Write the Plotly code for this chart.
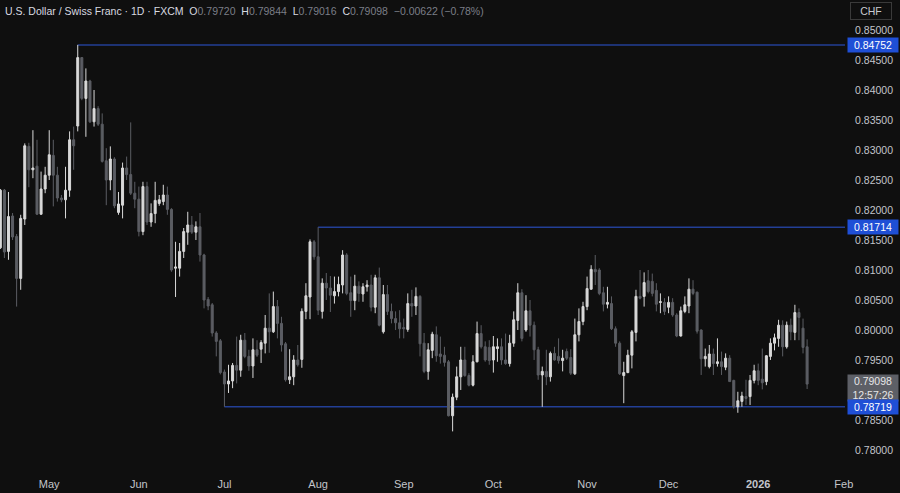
import pandas as pd
import plotly.graph_objects as go

# ---------------- data ----------------
holidays = ["2025-12-25", "2026-01-01"]
dates = [d for d in pd.bdate_range("2025-04-15", "2026-01-20") if d.strftime("%Y-%m-%d") not in holidays]

opens = [
    0.8137, 0.8233, 0.8131, 0.8190, 0.8156, 0.8086, 0.8185, 0.8306, 0.8267, 0.8273, 0.8193, 0.8235,
    0.8258, 0.8291, 0.8258, 0.8220, 0.8217, 0.8233, 0.8317, 0.8340, 0.8454, 0.8386,
    0.8415, 0.8347, 0.8369, 0.8343, 0.8282, 0.8250, 0.8285, 0.8196, 0.8208, 0.8270,
    0.8259, 0.8228, 0.8218, 0.8164, 0.8239, 0.8180, 0.8194, 0.8211, 0.8214, 0.8225,
    0.8201, 0.8103, 0.8103, 0.8131, 0.8163, 0.8175, 0.8163, 0.8172, 0.8125, 0.8051,
    0.8042, 0.7995, 0.7982, 0.7930, 0.7910, 0.7915, 0.7941, 0.7933, 0.7983, 0.7956,
    0.7940, 0.7967, 0.7968, 0.7978, 0.8003, 0.7997, 0.8039, 0.8011, 0.7977, 0.7917,
    0.7922, 0.7950, 0.7951, 0.8031, 0.8055, 0.8147, 0.8122, 0.8031, 0.8078, 0.8070,
    0.8057, 0.8064, 0.8075, 0.8125, 0.8062, 0.8049, 0.8073, 0.8060, 0.8072, 0.8075,
    0.8038, 0.8087, 0.7997, 0.8059, 0.8031, 0.8019, 0.8012, 0.8004, 0.8001, 0.8044,
    0.8040, 0.8056, 0.7978, 0.7931, 0.7966, 0.7992, 0.7960, 0.7958, 0.7947, 0.7857,
    0.7888, 0.7922, 0.7950, 0.7924, 0.7908, 0.7947, 0.7994, 0.7972, 0.7971, 0.7950,
    0.7969, 0.7972, 0.7950, 0.7944, 0.7978, 0.8016, 0.8062, 0.8000, 0.8032, 0.8008,
    0.7967, 0.7925, 0.7931, 0.7922, 0.7961, 0.7956, 0.7949, 0.7964, 0.7954, 0.7927,
    0.7992, 0.8014, 0.8039, 0.8068, 0.8101, 0.8100, 0.8062, 0.8043, 0.8044, 0.8002,
    0.7978, 0.7924, 0.7929, 0.7958, 0.7996, 0.8056, 0.8056, 0.8082, 0.8081, 0.8066,
    0.8046, 0.8046, 0.8038, 0.8046, 0.8025, 0.7990, 0.8031, 0.8040, 0.8068, 0.8063,
    0.8000, 0.7952, 0.7939, 0.7960, 0.7944, 0.7947, 0.7938, 0.7953, 0.7916, 0.7872,
    0.7881, 0.7889, 0.7889, 0.7916, 0.7932, 0.7918, 0.7914, 0.7956, 0.7978, 0.7986,
    0.8008, 0.7972, 0.8008, 0.7996, 0.8029, 0.8003, 0.79720,
]
highs = [
    0.8235, 0.8235, 0.8230, 0.8195, 0.8160, 0.8192, 0.8311, 0.8312, 0.8333, 0.8317, 0.8264, 0.8272,
    0.8333, 0.8317, 0.8272, 0.8225, 0.8272, 0.8331, 0.8339, 0.84752, 0.8455, 0.8436,
    0.8417, 0.8400, 0.8373, 0.8361, 0.8303, 0.8306, 0.8288, 0.8230, 0.8279, 0.8289,
    0.8346, 0.8247, 0.8239, 0.8247, 0.8247, 0.8211, 0.8247, 0.8225, 0.8242, 0.8239,
    0.8203, 0.8147, 0.8145, 0.8170, 0.8197, 0.8190, 0.8181, 0.8195, 0.8127, 0.8055,
    0.8045, 0.7998, 0.7985, 0.7934, 0.7942, 0.7945, 0.7989, 0.7992, 0.7995, 0.7967,
    0.7986, 0.7983, 0.7983, 0.8025, 0.8061, 0.8064, 0.8050, 0.8022, 0.7980, 0.7968,
    0.7958, 0.7975, 0.8036, 0.8078, 0.8151, 0.8150, 0.81714, 0.8086, 0.8095, 0.8090,
    0.8089, 0.8089, 0.8133, 0.8128, 0.8089, 0.8092, 0.8081, 0.8078, 0.8083, 0.8092,
    0.8092, 0.8104, 0.8075, 0.8075, 0.8044, 0.8031, 0.8033, 0.8019, 0.8061, 0.8067,
    0.8071, 0.8058, 0.7995, 0.7978, 0.7997, 0.8006, 0.7989, 0.7972, 0.7950, 0.7894,
    0.7939, 0.7972, 0.7972, 0.7928, 0.7958, 0.8014, 0.8008, 0.7981, 0.7983, 0.7990,
    0.7986, 0.7986, 0.7994, 0.7992, 0.8031, 0.8078, 0.8068, 0.8058, 0.8050, 0.8014,
    0.7972, 0.7939, 0.7967, 0.7964, 0.7972, 0.7986, 0.7967, 0.7969, 0.7968, 0.8019,
    0.8036, 0.8047, 0.8089, 0.8108, 0.8125, 0.8103, 0.8072, 0.8072, 0.8056, 0.8006,
    0.7981, 0.7947, 0.7967, 0.8000, 0.8067, 0.8100, 0.8096, 0.8100, 0.8094, 0.8078,
    0.8061, 0.8053, 0.8056, 0.8053, 0.8028, 0.8039, 0.8056, 0.8086, 0.8083, 0.8064,
    0.8001, 0.7969, 0.7975, 0.7969, 0.7986, 0.7964, 0.7961, 0.7958, 0.7917, 0.7897,
    0.7897, 0.7917, 0.7925, 0.7942, 0.7944, 0.7969, 0.7958, 0.7986, 0.7994, 0.8017,
    0.8016, 0.8014, 0.8019, 0.8042, 0.8036, 0.8019, 0.79844,
]
lows = [
    0.8135, 0.8120, 0.8117, 0.8150, 0.8039, 0.8067, 0.8175, 0.8238, 0.8253, 0.8192, 0.8192, 0.8228,
    0.8250, 0.8206, 0.8214, 0.8213, 0.8186, 0.8222, 0.8267, 0.8331, 0.8383, 0.8322,
    0.8345, 0.8339, 0.8340, 0.8279, 0.8208, 0.8233, 0.8203, 0.8192, 0.8186, 0.8250,
    0.8225, 0.8203, 0.8156, 0.8158, 0.8175, 0.8172, 0.8178, 0.8207, 0.8208, 0.8192,
    0.8097, 0.8055, 0.8089, 0.8120, 0.8142, 0.8160, 0.8150, 0.8114, 0.8036, 0.8033,
    0.7989, 0.7956, 0.7926, 0.78719, 0.7895, 0.7903, 0.7911, 0.7922, 0.7953, 0.7932,
    0.7920, 0.7955, 0.7945, 0.7961, 0.7962, 0.7995, 0.7986, 0.7964, 0.7914, 0.7910,
    0.7908, 0.7939, 0.7937, 0.8018, 0.8018, 0.8117, 0.8025, 0.8019, 0.8050, 0.8030,
    0.8044, 0.8056, 0.8061, 0.8058, 0.8022, 0.8033, 0.8047, 0.8047, 0.8064, 0.8031,
    0.8028, 0.8006, 0.7994, 0.8025, 0.8011, 0.8000, 0.7986, 0.7986, 0.7997, 0.8022,
    0.8025, 0.7956, 0.7928, 0.7917, 0.7953, 0.7947, 0.7944, 0.7939, 0.7856, 0.7831,
    0.7883, 0.7900, 0.7922, 0.7906, 0.7906, 0.7946, 0.7969, 0.7947, 0.7942, 0.7929,
    0.7947, 0.7942, 0.7942, 0.7939, 0.7972, 0.8000, 0.7981, 0.7997, 0.7989, 0.7950,
    0.7917, 0.78719, 0.7908, 0.7914, 0.7949, 0.7944, 0.7931, 0.7950, 0.7925, 0.7925,
    0.7981, 0.8008, 0.8033, 0.8067, 0.8075, 0.8058, 0.8031, 0.8036, 0.8000, 0.7972,
    0.7925, 0.7878, 0.7928, 0.7936, 0.7981, 0.8051, 0.8039, 0.8061, 0.8056, 0.8031,
    0.8028, 0.8025, 0.8028, 0.8022, 0.7988, 0.7989, 0.8028, 0.8028, 0.8058, 0.7994,
    0.7925, 0.7939, 0.7936, 0.7925, 0.7939, 0.7925, 0.7933, 0.7914, 0.7869, 0.7862,
    0.7872, 0.7875, 0.7875, 0.7911, 0.7908, 0.7901, 0.7908, 0.7950, 0.7966, 0.7972,
    0.7956, 0.7969, 0.7983, 0.7983, 0.7983, 0.7961, 0.79016,
]
closes = [
    0.8233, 0.8130, 0.8189, 0.8155, 0.8086, 0.8186, 0.8307, 0.8267, 0.8270, 0.8193, 0.8235, 0.8258,
    0.8292, 0.8258, 0.8220, 0.8217, 0.8233, 0.8317, 0.8307, 0.8454, 0.8386, 0.8415,
    0.8347, 0.8369, 0.8343, 0.8281, 0.8250, 0.8285, 0.8207, 0.8210, 0.8270, 0.8259,
    0.8228, 0.8218, 0.8164, 0.8239, 0.8180, 0.8194, 0.8216, 0.8217, 0.8225, 0.8201,
    0.8100, 0.8105, 0.8131, 0.8164, 0.8175, 0.8163, 0.8172, 0.8125, 0.8050, 0.8040,
    0.7995, 0.7981, 0.7929, 0.7910, 0.7915, 0.7941, 0.7933, 0.7983, 0.7956, 0.7940,
    0.7967, 0.7958, 0.7979, 0.8003, 0.7997, 0.8039, 0.8011, 0.7975, 0.7917, 0.7922,
    0.7950, 0.7942, 0.8031, 0.8057, 0.8147, 0.8122, 0.8033, 0.8078, 0.8070, 0.8058,
    0.8064, 0.8076, 0.8125, 0.8061, 0.8049, 0.8073, 0.8061, 0.8072, 0.8075, 0.8038,
    0.8087, 0.8008, 0.8059, 0.8031, 0.8019, 0.8012, 0.8002, 0.8002, 0.8044, 0.8040,
    0.8056, 0.7977, 0.7931, 0.7967, 0.7993, 0.7957, 0.7956, 0.7946, 0.7857, 0.7888,
    0.7922, 0.7950, 0.7924, 0.7908, 0.7947, 0.7994, 0.7972, 0.7950, 0.7949, 0.7972,
    0.7972, 0.7950, 0.7944, 0.7978, 0.8017, 0.8062, 0.7986, 0.8032, 0.8008, 0.7967,
    0.7925, 0.7931, 0.7922, 0.7961, 0.7950, 0.7949, 0.7953, 0.7953, 0.7928, 0.7992,
    0.8014, 0.8039, 0.8069, 0.8101, 0.8097, 0.8061, 0.8043, 0.8046, 0.8002, 0.7978,
    0.7927, 0.7929, 0.7958, 0.7997, 0.8056, 0.8053, 0.8079, 0.8064, 0.8061, 0.8043,
    0.8047, 0.8031, 0.8046, 0.8025, 0.7990, 0.8032, 0.8042, 0.8068, 0.8061, 0.7998,
    0.7952, 0.7956, 0.7960, 0.7944, 0.7947, 0.7939, 0.7953, 0.7914, 0.7872, 0.7882,
    0.7890, 0.7886, 0.7916, 0.7932, 0.7916, 0.7912, 0.7957, 0.7978, 0.7987, 0.8008,
    0.7972, 0.8008, 0.7997, 0.8029, 0.8021, 0.7971, 0.79098,
]

# horizontal levels and the bar where each starts
levels = [0.84752, 0.81714, 0.78719]
level_start = ["2025-05-12", "2025-08-01", "2025-07-01"]

price_ticks = [0.78, 0.785, 0.795, 0.80, 0.805, 0.81, 0.815, 0.82, 0.825, 0.83, 0.835, 0.84, 0.845, 0.85]
header_title = "U.S. Dollar / Swiss Franc · 1D · FXCM"
change_text = "−0.00622 (−0.78%)"
countdown = "12:57:26"
currency = "CHF"

# ---------------- figure ----------------
n = len(dates)
assert n == len(opens) == len(highs) == len(lows) == len(closes)
xpos = list(range(n))
date_str = [d.strftime("%Y-%m-%d") for d in dates]

UP = "#d9d9d9"
DOWN = "#5b5d63"
BG = "#0f0f0f"
AXIS_TXT = "#c3c5cb"
LINE_BLUE = "#233f96"
BOX_BLUE = "#1f4fd6"

fig = go.Figure()
fig.add_trace(go.Candlestick(
    x=xpos, open=opens, high=highs, low=lows, close=closes,
    increasing=dict(line=dict(color=UP, width=1), fillcolor=UP),
    decreasing=dict(line=dict(color=DOWN, width=1), fillcolor=DOWN),
    whiskerwidth=0, hoverinfo="skip",
))

# month ticks: first bar of each month
tickvals, ticktext = [], []
prev = None
for i, d in enumerate(dates):
    key = (d.year, d.month)
    if prev is not None and key != prev:
        tickvals.append(i)
        ticktext.append("<b>%d</b>" % d.year if d.month == 1 else d.strftime("%b"))
    prev = key
# next month (Feb) beyond the data: continue trading-day count
last = dates[-1]
extra = [d for d in pd.bdate_range(last + pd.Timedelta(days=1), "2026-02-02")]
tickvals.append(n - 1 + len(extra))
ticktext.append("Feb")

shapes = []
for lv, sd in zip(levels, level_start):
    xs = date_str.index(sd)
    shapes.append(dict(type="line", xref="x", yref="y", x0=xs, x1=n + 40, y0=lv, y1=lv,
                       line=dict(color=LINE_BLUE, width=1.5), layer="below"))

annotations = []
# current price + countdown (drawn first so level boxes sit on top)
annotations.append(dict(xref="paper", yref="y", x=1, y=closes[-1], xanchor="left", yanchor="top",
                        xshift=2, yshift=10, text="%.5f<br>%s" % (closes[-1], countdown), showarrow=False,
                        width=48, height=24, bgcolor="#5d5f66", borderpad=1,
                        font=dict(color="#e6e6e6", size=10.5)))
for lv in levels:
    annotations.append(dict(xref="paper", yref="y", x=1, y=lv, xanchor="left", yanchor="middle",
                            xshift=2, text="%.5f" % lv, showarrow=False, width=48, height=12,
                            bgcolor=BOX_BLUE, borderpad=1,
                            font=dict(color="#ffffff", size=10.5)))
annotations.append(dict(xref="paper", yref="paper", x=1, y=1, xanchor="left", yanchor="top",
                        xshift=5, yshift=-2, text=currency, showarrow=False, width=40, height=16,
                        bordercolor="#3a3a3a", borderwidth=1, borderpad=0,
                        font=dict(color="#c8cad0", size=10.5)))
dim = "#7b7e87"
sp = "\u00a0"
hdr = (header_title + sp * 2 +
       "O<span style='color:%s'>%.5f</span>" % (dim, opens[-1]) + sp * 2 +
       "H<span style='color:%s'>%.5f</span>" % (dim, highs[-1]) + sp * 2 +
       "L<span style='color:%s'>%.5f</span>" % (dim, lows[-1]) + sp * 2 +
       "C<span style='color:%s'>%.5f</span>" % (dim, closes[-1]) + sp * 2 +
       "<span style='color:%s'>%s</span>" % (dim, change_text))
annotations.append(dict(xref="paper", yref="paper", x=0, y=1, xanchor="left", yanchor="top",
                        xshift=3, yshift=-3, text=hdr, showarrow=False, align="left",
                        font=dict(color="#d8dae0", size=10.5)))

fig.update_layout(
    width=900, height=493,
    margin=dict(l=0, r=55, t=0, b=27),
    paper_bgcolor=BG, plot_bgcolor=BG,
    showlegend=False,
    font=dict(family="Liberation Sans, Arial, sans-serif", color=AXIS_TXT, size=11),
    shapes=shapes, annotations=annotations,
    xaxis=dict(range=[-0.08, 207.3], tickvals=tickvals, ticktext=ticktext, showgrid=False,
               zeroline=False, showline=False, ticks="outside", ticklen=8, tickcolor=BG,
               rangeslider=dict(visible=False), tickfont=dict(size=11, color=AXIS_TXT)),
    yaxis=dict(range=[0.77733, 0.855], side="right", tickvals=price_ticks,
               ticktext=["%.5f" % v for v in price_ticks], showgrid=False, zeroline=False,
               showline=False, ticks="outside", ticklen=7, tickcolor=BG,
               tickfont=dict(size=10.5, color=AXIS_TXT)),
)

fig.write_html("out.html", config={"displayModeBar": False},
               post_script="document.body.style.margin='0';document.body.style.background='%s';" % BG)
